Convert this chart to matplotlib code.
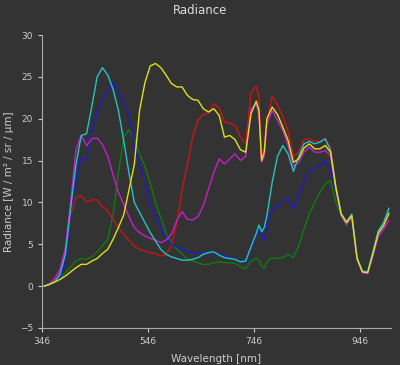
import matplotlib
matplotlib.use("Agg")
import matplotlib.pyplot as plt

wavelength = [350, 360, 370, 380, 390, 400, 410, 420, 430, 440, 450, 460, 470, 480, 490,
              500, 510, 520, 530, 540, 550, 560, 570, 580, 590, 600, 610, 620, 630, 640,
              650, 660, 670, 680, 690, 700, 710, 720, 730, 740, 750, 755, 760, 765, 770,
              780, 790, 800, 810, 820, 830, 840, 850, 860, 870, 880, 890, 900, 910, 920,
              930, 940, 950, 960, 970, 980, 990, 1000]

yellow = [0, 0.2, 0.5, 0.8, 1.2, 1.7, 2.2, 2.6, 2.6, 3.0, 3.3, 3.9, 4.4, 5.6, 7.0,
          8.5, 11.5, 14.5, 21.0, 24.3, 26.3, 26.6, 26.1, 25.2, 24.2, 23.8, 23.8, 22.8, 22.3, 22.2,
          21.2, 20.8, 21.2, 20.4, 17.8, 18.0, 17.5, 16.3, 16.0, 20.6, 22.1, 21.0, 15.0, 16.0, 20.0,
          21.4, 20.5, 19.0, 17.4, 14.8, 15.2, 16.5, 17.0, 16.4, 16.4, 16.8, 16.0, 11.8, 8.6, 7.6,
          8.4, 3.3, 1.7, 1.6, 3.9, 6.3, 7.2, 8.7]

red = [0, 0.3, 0.8, 1.8, 3.8, 8.5, 10.6, 10.8, 10.0, 10.3, 10.3, 9.5, 9.0, 8.0, 7.0,
       6.2, 5.5, 4.8, 4.4, 4.2, 4.0, 3.9, 3.6, 3.8, 4.8, 7.5, 11.5, 14.5, 17.8, 19.8,
       20.5, 20.7, 21.8, 21.3, 19.6, 19.5, 19.2, 17.8, 17.0, 23.1, 23.9, 22.5, 15.5, 16.5, 19.5,
       22.7, 21.6, 20.3, 18.5, 15.5, 16.0, 17.5, 17.6, 17.3, 17.3, 17.6, 16.6, 12.0, 8.7, 7.7,
       8.5, 3.4, 1.8, 1.6, 3.9, 6.2, 7.1, 8.5]

magenta = [0, 0.3, 0.9, 2.0, 4.5, 10.0, 16.3, 18.0, 16.8, 17.6, 17.7, 16.9, 15.5, 13.3, 11.2,
           9.8, 8.3, 7.0, 6.4, 6.0, 5.7, 5.5, 5.2, 5.5, 6.2, 7.8, 8.9, 8.0, 7.9, 8.3,
           9.6, 11.6, 13.6, 15.2, 14.6, 15.2, 15.8, 15.0, 15.5, 21.2, 21.7, 20.5, 14.8, 15.5, 19.3,
           21.0, 19.8, 18.6, 16.8, 14.3, 14.8, 16.0, 16.6, 16.0, 16.0, 16.2, 15.6, 11.5, 8.4, 7.4,
           8.2, 3.2, 1.6, 1.5, 3.6, 5.9, 6.8, 7.8]

cyan = [0, 0.2, 0.5, 1.4, 3.8, 9.3, 14.5, 18.0, 18.2, 21.5, 25.0, 26.1, 25.2, 23.5, 21.0,
        17.4, 13.5, 10.0, 8.8, 7.6, 6.4, 5.4, 4.4, 3.8, 3.5, 3.3, 3.1, 3.1, 3.2, 3.4,
        3.8, 4.0, 4.1, 3.7, 3.4, 3.3, 3.2, 2.9, 3.0, 4.7, 6.3, 7.3, 6.5, 7.0, 8.4,
        12.4, 15.5, 16.8, 15.8, 13.7, 15.5, 17.0, 17.3, 17.0, 17.2, 17.6, 16.2, 11.8, 8.7, 7.7,
        8.6, 3.4, 1.8, 1.7, 4.1, 6.6, 7.6, 9.3]

blue = [0, 0.2, 0.5, 1.0, 2.8, 9.0, 12.8, 15.3, 15.0, 18.5, 20.8, 22.2, 23.4, 24.3, 23.2,
        22.0, 20.5, 16.8, 14.5, 12.3, 9.6, 8.3, 6.8, 5.8, 5.0, 4.7, 4.4, 4.2, 4.0, 3.9,
        3.9, 3.9, 4.1, 3.8, 3.6, 3.4, 3.2, 3.0, 2.8, 4.5, 6.1, 6.7, 5.8, 5.5, 7.5,
        9.2, 9.5, 10.2, 10.5, 9.2, 11.0, 12.5, 13.8, 14.0, 14.4, 15.0, 14.0, 11.5, 8.5, 7.5,
        8.3, 3.3, 1.6, 1.4, 3.8, 6.2, 7.1, 8.8]

green = [0, 0.2, 0.4, 0.9, 1.6, 2.3, 3.0, 3.3, 3.2, 3.5, 4.1, 4.8, 5.6, 8.5, 13.5,
         17.8, 18.7, 17.5, 15.8, 14.3, 12.3, 10.0, 8.2, 6.3, 5.2, 4.4, 3.9, 3.2, 3.0, 2.8,
         2.6, 2.6, 2.8, 2.9, 2.8, 2.8, 2.7, 2.3, 2.1, 3.0, 3.3, 3.1, 2.4, 2.1, 2.9,
         3.4, 3.3, 3.4, 3.8, 3.4, 4.8, 6.8, 8.6, 10.0, 11.2, 12.2, 12.6, 10.0, 8.4, 7.2,
         8.3, 3.3, 1.7, 1.6, 3.9, 6.4, 7.4, 9.0]

series = [
    (green, "#127a12"),
    (red, "#cc1414"),
    (blue, "#1c1ccc"),
    (magenta, "#c81ec8"),
    (cyan, "#22c4c4"),
    (yellow, "#e0e01a"),
]

x_ticks = [346, 546, 746, 946]
y_ticks = [-5, 0, 5, 10, 15, 20, 25, 30]

bg = "#333333"
fg = "#cccccc"

fig = plt.figure(figsize=(4.0, 3.65), dpi=100, facecolor=bg)
ax = fig.add_axes([0.105, 0.1014, 0.8725, 0.8027])
ax.set_facecolor(bg)

for vals, col in series:
    ax.plot(wavelength, vals, color=col, lw=1.0)

ax.set_xlim(346, 1004)
ax.set_ylim(-5, 30)
ax.set_xticks(x_ticks)
ax.set_yticks(y_ticks)
ax.tick_params(colors=fg, labelsize=6.5, length=3, width=0.8)
for s in ["top", "right"]:
    ax.spines[s].set_visible(False)
for s in ["left", "bottom"]:
    ax.spines[s].set_color("#aaaaaa")
    ax.spines[s].set_linewidth(0.8)

ax.set_xlabel("Wavelength [nm]", color=fg, fontsize=7.5, labelpad=6)
ax.set_ylabel("Radiance [W / m² / sr / µm]", color=fg, fontsize=7.5, labelpad=4)
fig.text(0.5, 0.972, "Radiance", color="#dddddd", fontsize=8.5, ha="center", va="center")

fig.savefig("out.png", dpi=100, facecolor=bg)
